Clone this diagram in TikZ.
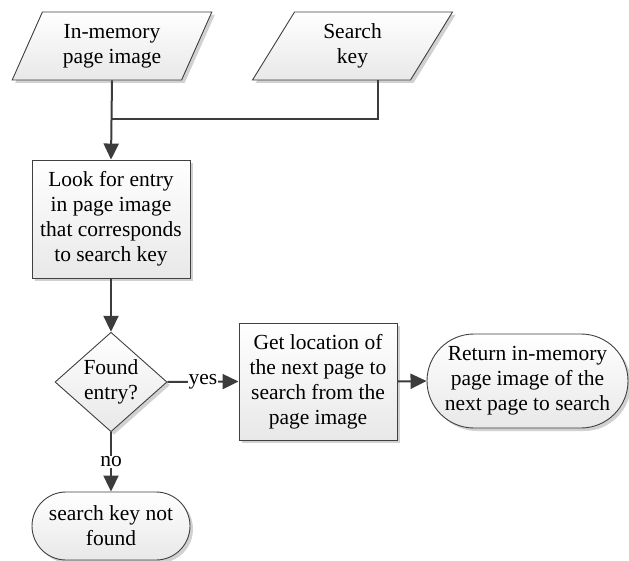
\documentclass[tikz,border=0pt]{standalone}
\usepackage{fontspec}
\setmainfont{Liberation Serif}[Ligatures=TeX]
\usetikzlibrary{shapes.geometric,shapes.misc,shadows,arrows.meta}
\definecolor{edge}{HTML}{404040}
\definecolor{wire}{HTML}{3C3C3C}
\tikzset{
  base/.style={draw=edge, line width=0.9pt, top color=white, bottom color=black!9,
    drop shadow={shadow xshift=3pt, shadow yshift=-3pt, fill=black!18, opacity=1},
    align=center, inner sep=2pt, font=\rmfamily\fontsize{21.5}{25}\selectfont},
  iobox/.style={base, trapezium, trapezium left angle=65, trapezium right angle=115,
    trapezium stretches=true, minimum width=200pt, minimum height=68pt},
  procbox/.style={base, rectangle, minimum width=158pt, minimum height=118pt},
  decision/.style={base, diamond, minimum width=112pt, minimum height=88pt, inner sep=0pt},
  termbox/.style={base, rectangle, rounded corners=#1},
  flow/.style={draw=wire, line width=2pt, -{Triangle[length=16pt,width=15pt]}},
  link/.style={draw=wire, line width=2pt},
  tag/.style={fill=white, inner sep=1pt, font=\rmfamily\fontsize{21.5}{25}\selectfont}
}
\begin{document}
\begin{tikzpicture}[x=1pt,y=-1pt]
\useasboundingbox (0,0) rectangle (629,561);

% inputs
\node[iobox] (mem) at (112,46) {In-memory\\page image};
\node[iobox] (key) at (352.5,46) {Search\\key};

% search step
\node[procbox] (look) at (111,219) {Look for entry\\in page image\\that corresponds\\to search key};
\node[decision] (found) at (111,382) {Found\\entry?};
\node[procbox, minimum height=117pt] (next) at (318,381.5) {Get location of\\the next page to\\search from the\\page image};

% outcomes
\node[termbox=47pt, minimum width=201pt, minimum height=94pt] (ret) at (527.5,381) {Return in-memory\\page image of the\\next page to search};
\node[termbox=34pt, minimum width=158pt, minimum height=68pt] (miss) at (111,526) {search key not\\found};

% connectors
\coordinate (join) at (112,119);
\draw[flow] (mem.south) -- (look.north);
\draw[link] ([xshift=25pt]key.south) |- (join);
\draw[flow] (look.south) -- (found.north);
\draw[flow] (found.east) -- node[tag] {yes} (next.west);
\draw[flow] (next.east) -- (ret.west);
\draw[flow] (found.south) -- node[tag] {no} (miss.north);
\end{tikzpicture}
\end{document}
